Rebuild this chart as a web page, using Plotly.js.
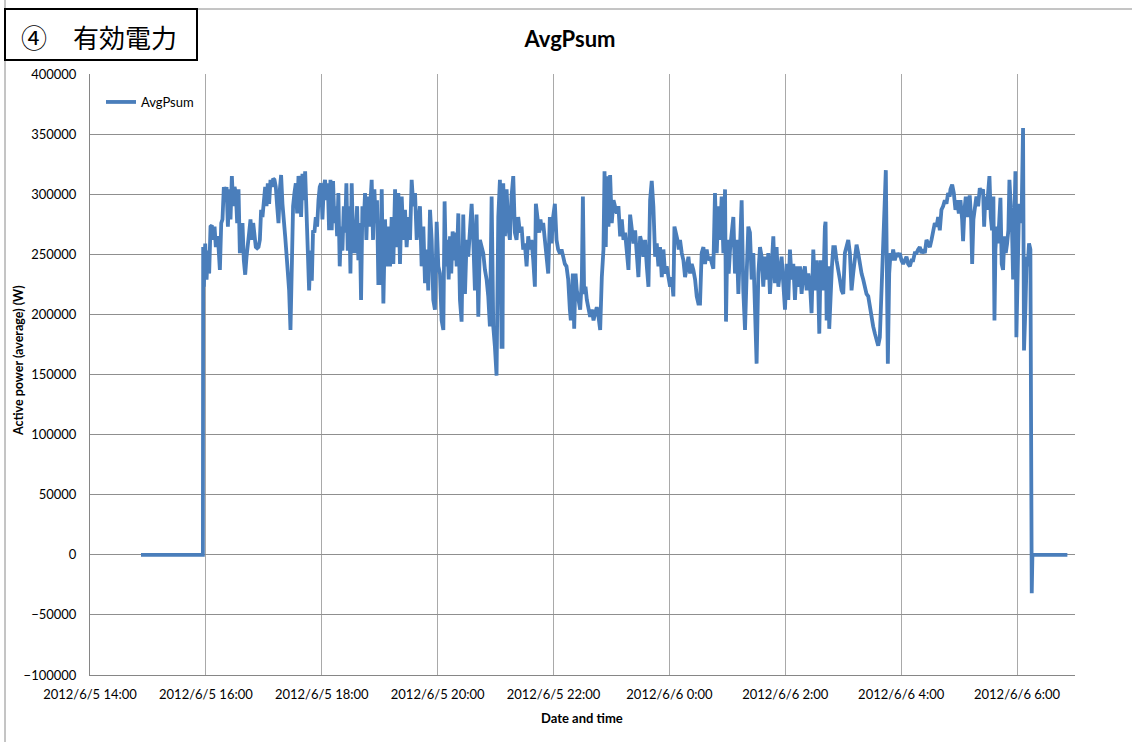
<!DOCTYPE html>
<html>
<head>
<meta charset="utf-8">
<script src="https://cdn.plot.ly/plotly-3.0.1.min.js"></script>
<style>html,body{margin:0;padding:0;background:#fff}#chart{width:1132px;height:742px}</style>
</head>
<body>
<div id="chart"></div>
<script>
// Minutes after 2012/6/5 14:00
const minutesAfterStart = [
52.8,116.9,
117.2,117.9,119.3,120.7,122.1,123.4,124.8,126.2,127.6,129.0,
130.3,131.7,133.1,134.5,135.9,137.2,138.6,140.0,141.4,142.8,
144.1,145.5,146.9,148.3,149.7,151.0,152.4,153.8,155.2,156.6,
157.9,159.3,160.7,162.1,163.4,164.8,166.2,167.6,169.0,170.3,
171.7,173.1,174.5,175.9,177.2,178.6,180.0,181.4,182.8,184.1,
185.5,186.9,188.3,189.7,191.0,192.4,193.8,195.2,196.6,197.9,
199.3,200.7,202.1,203.4,204.8,206.2,207.6,209.0,210.3,211.7,
213.1,214.5,215.9,217.2,218.6,220.0,221.4,222.8,224.1,225.5,
226.9,228.3,229.7,231.0,232.4,233.8,235.2,236.6,237.9,239.3,
240.7,242.1,243.4,244.8,246.2,247.6,249.0,250.3,251.7,253.1,
254.5,255.9,257.2,258.6,260.0,261.4,262.8,264.1,265.5,266.9,
268.3,269.7,271.0,272.4,273.8,275.2,276.6,277.9,279.3,280.7,
282.1,283.4,284.8,286.2,287.6,289.0,290.3,291.7,293.1,294.5,
295.9,297.2,298.6,
300.3,302.1,303.8,305.5,307.2,309.0,310.7,312.4,314.1,315.9,
317.6,319.3,321.0,322.8,324.5,326.2,327.9,329.7,331.4,333.1,
334.8,336.6,338.3,340.0,341.7,343.4,345.2,346.9,348.6,350.3,
352.1,353.8,355.5,357.2,359.0,360.7,362.4,364.1,365.9,367.2,
368.6,370.0,371.4,372.8,374.1,375.5,376.9,378.3,379.7,381.4,
383.1,384.8,386.5,388.3,390.0,391.7,393.4,395.2,396.9,398.6,
400.3,402.1,403.8,405.5,407.2,409.0,410.7,412.4,414.1,415.9,
417.6,419.3,421.0,422.8,424.5,426.2,427.2,427.9,429.7,431.4,
433.1,434.8,436.5,438.3,440.0,441.7,443.4,445.2,446.9,448.6,
450.3,452.1,453.8,455.5,457.2,459.0,460.7,461.7,463.4,465.2,
466.5,467.9,469.3,471.0,472.8,474.5,476.2,477.9,479.6,481.4,
483.1,484.8,486.5,488.3,490.0,491.7,493.4,495.2,496.9,
497.9,500.0,501.4,502.8,504.1,505.9,507.6,509.3,510.4,511.7,
513.1,514.5,516.2,517.9,519.7,521.4,523.1,524.8,526.6,528.3,
530.0,531.7,532.8,534.1,535.2,536.9,538.6,540.3,542.1,543.8,
545.5,547.2,549.0,550.7,552.4,554.1,555.9,557.6,559.3,561.0,
562.8,564.5,566.2,567.9,569.7,571.4,573.1,574.8,576.6,578.3,
580.0,581.7,583.4,585.2,586.9,588.6,590.3,592.1,593.8,595.5,
597.2,599.0,600.7,602.4,604.1,605.2,606.9,608.3,609.7,611.0,
612.8,614.5,616.2,617.9,619.7,621.4,623.1,624.8,626.6,628.3,
630.0,631.7,633.4,635.2,636.9,638.6,640.3,642.1,643.8,645.5,
647.2,649.0,650.7,652.4,654.1,655.9,657.6,658.6,660.0,661.4,
662.8,664.5,666.2,667.9,669.7,671.4,673.1,674.8,676.5,678.3,
680.0,681.7,683.4,685.2,686.9,688.6,690.3,692.1,693.8,
695.5,697.2,699.0,700.7,702.4,704.1,705.9,707.6,709.3,711.0,
712.8,714.5,716.2,717.9,719.7,721.4,723.1,724.8,726.6,728.3,
730.0,731.7,733.4,735.2,736.9,738.6,740.3,742.1,743.8,745.5,
747.2,749.0,750.7,752.4,754.1,755.2,756.6,757.9,759.3,761.0,
761.7,762.8,764.5,765.5,766.9,768.3,769.7,771.4,773.1,774.8,
776.5,778.3,780.0,781.7,783.4,785.2,786.9,788.6,790.3,792.1,
793.8,795.5,797.2,799.0,800.7,802.4,804.1,805.9,807.6,809.3,
811.0,812.8,814.5,816.2,817.9,819.7,821.4,822.8,824.1,825.2,
826.2,827.6,829.0,830.3,831.7,833.4,835.2,836.9,838.6,840.3,
842.1,843.8,845.5,847.2,849.0,850.7,852.4,854.1,855.9,857.6,
859.3,861.0,862.8,864.5,866.2,867.9,869.7,871.4,873.1,874.8,
876.6,878.3,880.0,881.7,883.4,885.2,886.9,888.6,890.3,
891.0,892.8,894.5,896.2,897.9,899.7,901.4,903.1,904.1,905.5,
906.9,908.3,909.7,911.0,912.4,913.5,914.8,916.2,917.9,919.7,
921.4,923.1,924.8,925.9,927.2,928.6,930.0,931.4,932.8,934.1,
935.5,936.6,937.6,939.0,940.3,941.7,942.8,944.1,945.5,946.9,
948.3,949.7,951.0,952.1,953.4,954.8,955.9,957.2,958.3,959.3,
960.7,962.1,963.4,964.8,966.2,967.2,968.6,970.0,971.0,972.4,
973.8,975.2,975.9,1012.1
];
// AvgPsum in kW (converted to W for plotting)
const avgPsumKW = [
0,0,
256,223,259,229,253,234,273,274,262,273,
256,265,256,237,276,279,306,295,306,273,
304,279,315,290,306,301,276,304,251,262,
276,245,233,248,262,268,279,262,276,268,
256,255,256,262,287,281,292,306,290,309,
292,312,306,313,312,306,290,276,304,316,
292,273,265,251,234,220,187,228,290,301,
309,284,315,309,281,317,295,319,290,240,
220,253,228,270,268,281,273,295,306,309,
279,306,312,295,309,270,312,270,311,276,
290,265,301,240,273,253,290,268,309,253,
290,234,309,262,251,268,290,245,276,212,
290,273,301,262,298,273,290,312,262,304,
276,295,226,
226,304,209,279,240,273,240,281,242,304,
256,301,242,298,262,287,256,281,262,312,
290,301,262,276,290,240,273,226,254,220,
287,262,212,204,277,240,234,195,187,294,
240,262,229,265,234,269,245,268,240,284,
212,194,283,217,262,248,265,292,262,220,
283,198,262,256,251,237,229,215,190,298,
190,173,149,281,312,173,173,309,265,304,
273,262,298,315,268,262,281,268,273,254,
259,240,265,254,262,245,223,292,276,268,
279,270,276,262,254,234,281,259,281,292,
262,254,251,254,248,242,240,229,204,
195,234,188,234,220,212,204,229,298,217,
223,212,206,198,204,195,201,206,198,187,
231,254,319,256,315,273,316,276,295,290,
284,290,265,279,262,268,251,237,283,273,
259,270,254,231,265,259,248,262,240,223,
295,311,290,248,259,240,256,231,254,234,
240,229,223,231,215,273,268,262,254,262,
251,245,231,240,248,234,242,237,229,215,
209,209,251,256,242,254,245,248,242,238,
301,251,290,262,298,251,304,194,262,234,
254,268,281,234,262,217,248,295,220,187,
234,273,268,229,251,192,159,234,256,
248,223,248,229,251,217,240,265,226,256,
223,234,248,226,204,242,212,254,229,242,
212,240,223,240,217,234,240,220,234,226,
201,254,220,245,223,184,245,234,220,273,
277,195,240,188,220,240,256,256,245,234,
229,220,217,251,256,262,251,220,234,248,
258,251,240,234,229,223,217,215,206,198,
190,184,179,174,181,229,262,290,320,262,
159,234,251,245,254,245,251,248,251,245,
242,245,248,242,240,245,245,251,251,254,
256,251,254,251,262,259,256,262,268,276,
273,281,270,287,290,295,292,301,298,
304,308,301,287,295,284,295,279,261,287,
298,281,295,299,279,242,279,287,298,290,
305,301,304,273,298,287,298,315,281,270,
298,195,254,273,259,287,297,242,237,265,
251,259,270,312,287,270,229,273,319,181,
237,292,276,287,355,170,204,248,240,259,
254,-32,0,0
];
const seriesName = 'AvgPsum';
const chartTitle = 'AvgPsum';
const xTitle = 'Date and time';
const yTitle = 'Active power (average) (W)';
const boxLabel = '④　有効電力';

const startMs = Date.UTC(2012, 5, 5, 14, 0, 0);
const xDates = minutesAfterStart.map(m => new Date(startMs + Math.round(m * 60000)).toISOString().slice(0, 19).replace('T', ' '));
const yWatts = avgPsumKW.map(v => v * 1000);

const L = 90, R = 1075, T = 74, B = 675;
const px = x => (x - L) / (R - L);
const py = y => (B - y) / (B - T);

const trace = {
  x: xDates, y: yWatts, type: 'scatter', mode: 'lines', name: seriesName,
  line: {color: '#4a7ebb', width: 3.8}, hoverinfo: 'skip'
};

const tickFont = {family: 'Lato, sans-serif', size: 13, color: '#000'};

const layout = {
  width: 1132, height: 742,
  margin: {l: 90, r: 57, t: 74, b: 67, pad: 0},
  paper_bgcolor: '#fff', plot_bgcolor: '#fff',
  font: {family: 'Lato, "Open Sans", sans-serif', size: 13, color: '#000'},
  separators: '.,',
  title: {text: '<b>' + chartTitle + '</b>', font: {family: 'Lato, sans-serif', size: 22, color: '#000'},
    xref: 'container', yref: 'container', x: 570 / 1132, y: 1 - 39 / 742, xanchor: 'center', yanchor: 'middle'},
  showlegend: true,
  legend: {x: px(101), y: py(87), xanchor: 'left', yanchor: 'top', bgcolor: 'rgba(0,0,0,0)',
    font: {family: 'Lato, sans-serif', size: 13, color: '#000'}},
  xaxis: {
    type: 'date', range: ['2012-06-05 14:00:00', '2012-06-06 07:00:00'],
    tick0: '2012-06-05 14:00:00', dtick: 7200000, tickformat: '%Y/%-m/%-d %-H:%M',
    showgrid: true, gridcolor: '#a9a9a9', gridwidth: 1,
    showline: true, linecolor: '#868686', linewidth: 1, zeroline: false,
    ticks: '', tickfont: tickFont, ticklabelstandoff: 7,
    automargin: false, fixedrange: true
  },
  yaxis: {
    range: [-100000, 400000], dtick: 50000, tick0: 0, tickformat: 'd',
    showgrid: true, gridcolor: '#8f8f8f', gridwidth: 1,
    showline: true, linecolor: '#868686', linewidth: 1, zeroline: false,
    ticks: '', tickfont: tickFont, ticklabelstandoff: 10,
    automargin: false, fixedrange: true
  },
  shapes: [
    {type: 'line', xref: 'paper', yref: 'paper', x0: px(5), x1: px(5), y0: py(742), y1: py(0), line: {color: '#8a8a8a', width: 1}},
    {type: 'line', xref: 'paper', yref: 'paper', x0: px(197), x1: px(1132), y0: py(9), y1: py(9), line: {color: '#8a8a8a', width: 1}},
    {type: 'rect', xref: 'paper', yref: 'paper', x0: px(5), x1: px(197), y0: py(60), y1: py(9), line: {color: '#000', width: 2}, fillcolor: '#fff'}
  ],
  annotations: [
    {text: boxLabel, xref: 'paper', yref: 'paper', x: px(19), y: py(36), xanchor: 'left', yanchor: 'middle', showarrow: false,
      font: {family: '"Noto Sans CJK JP", sans-serif', size: 26, color: '#000'}},
    {text: '<b>' + xTitle + '</b>', xref: 'paper', yref: 'paper', x: px(582), y: py(718), xanchor: 'center', yanchor: 'middle', showarrow: false,
      font: {family: 'Lato, sans-serif', size: 13, color: '#000'}},
    {text: '<b>' + yTitle + '</b>', xref: 'paper', yref: 'paper', x: px(18), y: py(361), xanchor: 'center', yanchor: 'middle', showarrow: false, textangle: -90,
      font: {family: 'Lato, sans-serif', size: 12.5, color: '#000'}}
  ],
  hovermode: false
};

Plotly.newPlot('chart', [trace], layout, {staticPlot: true, displayModeBar: false});
</script>
</body>
</html>
